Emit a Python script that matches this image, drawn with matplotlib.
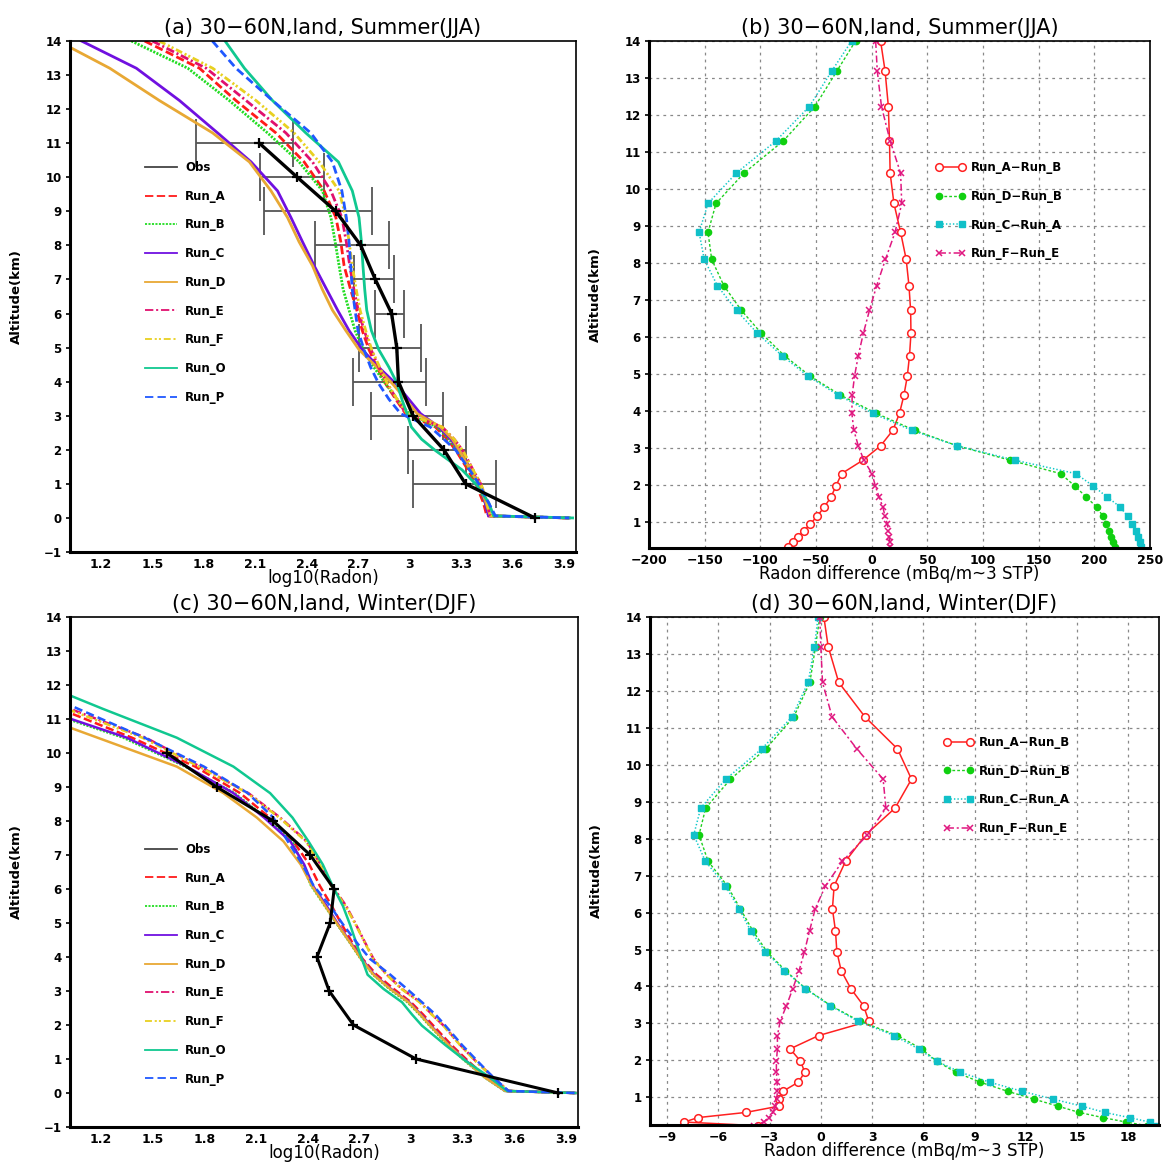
import numpy as np
import matplotlib
matplotlib.use('Agg')
import matplotlib.pyplot as plt
from matplotlib.lines import Line2D

plt.rcParams['font.family'] = ['DejaVu Sans']
plt.rcParams['font.weight'] = 'bold'
plt.rcParams['lines.scale_dashes'] = False

nan = np.nan

# ---------------- profiles (log10 Radon) on model levels ----------------
alt_prof = [14.0, 13.2, 12.25, 11.3, 10.45, 9.6, 8.82, 8.1, 7.4, 6.72, 6.1, 5.5, 4.94,
            4.42, 3.94, 3.48, 3.06, 2.67, 2.31, 1.98, 1.41, 0.95, 0.45, 0.06, 0.0]

# summer (JJA)
run_a_s = [1.455, 1.775, 1.988, 2.221, 2.385, 2.502, 2.57, 2.599, 2.618, 2.655, 2.692, 2.724, 2.763,
           2.81, 2.86, 2.92, 2.977, 3.15, 3.22, 3.27, 3.34, 3.39, 3.43, 3.45, 3.93]
run_b_s = [1.378, 1.707, 1.949, 2.172, 2.356, 2.492, 2.541, 2.566, 2.589, 2.612, 2.647, 2.682, 2.73,
           2.792, 2.86, 2.928, 2.996, 3.16, 3.23, 3.28, 3.35, 3.40, 3.44, 3.46, 3.93]
run_c_s = [1.087, 1.407, 1.659, 1.881, 2.076, 2.23, 2.308, 2.376, 2.444, 2.515, 2.58, 2.647, 2.724,
           2.82, 2.92, 2.996, 3.064, 3.17, 3.24, 3.29, 3.36, 3.41, 3.44, 3.46, 3.93]
run_d_s = [0.95, 1.252, 1.542, 1.852, 2.066, 2.192, 2.288, 2.356, 2.434, 2.49, 2.55, 2.628, 2.705,
           2.81, 2.90, 2.977, 3.044, 3.18, 3.25, 3.29, 3.355, 3.41, 3.445, 3.47, 3.93]
run_e_s = [1.50, 1.814, 2.047, 2.279, 2.434, 2.541, 2.605, 2.631, 2.651, 2.675, 2.70, 2.735, 2.775,
           2.82, 2.87, 2.925, 2.98, 3.19, 3.26, 3.31, 3.37, 3.42, 3.45, 3.47, 3.93]
run_f_s = [1.54, 1.852, 2.105, 2.327, 2.473, 2.589, 2.628, 2.647, 2.666, 2.688, 2.711, 2.744, 2.779,
           2.826, 2.87, 2.928, 2.986, 3.19, 3.26, 3.31, 3.37, 3.42, 3.45, 3.47, 3.93]
run_o_s = [1.924, 2.037, 2.201, 2.395, 2.585, 2.666, 2.705, 2.719, 2.728, 2.738, 2.75, 2.777, 2.82,
           2.88, 2.928, 2.955, 2.985, 3.01, 3.07, 3.15, 3.306, 3.393, 3.461, 3.49, 3.95]
run_p_s = [1.85, 1.988, 2.201, 2.424, 2.55, 2.605, 2.631, 2.647, 2.657, 2.665, 2.682, 2.699, 2.734,
           2.773, 2.82, 2.88, 2.948, 3.12, 3.2, 3.27, 3.35, 3.41, 3.46, 3.5, 3.93]

obs_alt_s = [0, 1, 2, 3, 4, 5, 6, 7, 8, 9, 10, 11]
obs_s = [3.73, 3.326, 3.20, 3.02, 2.935, 2.925, 2.895, 2.80, 2.715, 2.57, 2.345, 2.124]
obs_lo_s = [3.73, 3.019, 2.99, 2.773, 2.67, 2.705, 2.80, 2.676, 2.451, 2.151, 2.128, 1.757]
obs_hi_s = [3.73, 3.506, 3.326, 3.194, 3.093, 3.064, 2.97, 2.909, 2.88, 2.783, 2.498, 2.322]

# winter (DJF)
run_a_w = [nan, nan, 0.6, 0.96, 1.38, 1.747, 2.008, 2.18, 2.317, 2.41, 2.47, 2.54, 2.60,
           2.66, 2.72, 2.80, 2.90, 3.00, 3.07, 3.13, 3.235, 3.33, 3.44, 3.55, 3.955]
run_b_w = [nan, nan, 0.4, 0.83, 1.33, 1.69, 1.975, 2.155, 2.31, 2.37, 2.42, 2.50, 2.574,
           2.645, 2.709, 2.78, 2.875, 2.98, 3.05, 3.108, 3.215, 3.312, 3.43, 3.545, 3.955]
run_c_w = [nan, nan, 0.4, 0.85, 1.35, 1.698, 1.969, 2.147, 2.30, 2.38, 2.43, 2.51, 2.58,
           2.65, 2.715, 2.787, 2.884, 2.99, 3.058, 3.116, 3.222, 3.32, 3.435, 3.55, 3.955]
run_d_w = [nan, nan, 0.25, 0.72, 1.18, 1.64, 1.911, 2.105, 2.26, 2.36, 2.424, 2.502, 2.576,
           2.647, 2.711, 2.783, 2.88, 2.986, 3.054, 3.112, 3.219, 3.316, 3.432, 3.548, 3.955]
run_e_w = [nan, nan, 0.55, 1.02, 1.46, 1.775, 2.056, 2.24, 2.395, 2.475, 2.541, 2.624, 2.682,
           2.734, 2.783, 2.86, 2.948, 3.054, 3.122, 3.19, 3.287, 3.374, 3.48, 3.567, 3.955]
run_f_w = [nan, nan, 0.53, 1.0, 1.44, 1.77, 2.05, 2.235, 2.39, 2.47, 2.536, 2.62, 2.68,
           2.732, 2.781, 2.858, 2.945, 3.05, 3.12, 3.188, 3.285, 3.372, 3.478, 3.565, 3.955]
run_o_w = [nan, nan, 0.75, 1.21, 1.64, 1.969, 2.182, 2.312, 2.405, 2.488, 2.544, 2.605, 2.647,
           2.682, 2.715, 2.748, 2.841, 2.948, 3.006, 3.064, 3.2, 3.316, 3.461, 3.558, 3.955]
run_p_w = [nan, nan, 0.65, 1.067, 1.453, 1.798, 2.052, 2.201, 2.285, 2.37, 2.434, 2.531, 2.608,
           2.686, 2.763, 2.88, 2.977, 3.064, 3.142, 3.2, 3.297, 3.384, 3.48, 3.567, 3.955]

obs_alt_w = [0, 1, 2, 3, 4, 5, 6, 7, 8, 9, 10]
obs_w = [3.856, 3.03, 2.666, 2.525, 2.454, 2.531, 2.554, 2.415, 2.20, 1.872, 1.581]

# ---------------- differences (mBq/m^3 STP) ----------------
alt_lev = [14.0, 13.2, 12.23, 11.3, 10.43, 9.61, 8.83, 8.1, 7.39, 6.72, 6.1, 5.5, 4.94, 4.43,
           3.94, 3.48, 3.06, 2.67, 2.31, 1.98, 1.68, 1.41, 1.16, 0.95, 0.76, 0.59, 0.45, 0.33, 0.23]

ab_s = [8, 12, 15, 16, 16.6, 20, 26, 31, 33.5, 35, 35.3, 34, 32, 29, 25, 19, 8, -8, -27, -32,
        -36.5, -42.5, -49, -55, -61, -66, -71, -75, -79]
db_s = [-14.5, -31, -51, -79.4, -114.7, -139.8, -147, -143.7, -132.8, -117, -99, -78.5, -55, -28,
        4, 38.5, 77, 124.6, 169.7, 182.3, 192.6, 202, 207.7, 210.8, 213, 215.3, 217, 218.6, 219.5]
ca_s = [-18, -35.6, -56, -86, -121.6, -147, -155, -150.4, -138.6, -121.4, -102.6, -80.6, -57, -30,
        1, 36, 77, 129, 183.4, 198.8, 211.4, 223.2, 229.8, 234, 237, 239.4, 241, 241.5, 241.8]
fe_s = [3.6, 5, 8.8, 16.6, 26, 27, 21, 12.4, 4.5, -2, -7.5, -12, -15.4, -17.5, -17.8, -16, -12,
        -7, 0.3, 3.3, 6.6, 10, 12, 14, 15, 15.7, 16.3, 16.6, 16.6]

ab_w = [0.18, 0.43, 1.05, 2.58, 4.49, 5.31, 4.35, 2.62, 1.45, 0.78, 0.68, 0.86, 0.94, 1.19, 1.76,
        2.5, 2.81, -0.13, -1.8, -1.19, -0.94, -1.31, -2.23, -2.44, -2.46, -4.39, -7.2, -7.99, -3.67]
db_w = [-0.06, -0.31, -0.64, -1.58, -3.22, -5.29, -6.74, -7.13, -6.6, -5.47, -4.71, -3.97, -3.15,
        -2.07, -0.88, 0.59, 2.28, 4.49, 5.9, 6.78, 7.89, 9.33, 10.95, 12.48, 13.88, 15.13, 16.52,
        17.87, 19.12]
ca_w = [-0.16, -0.37, -0.74, -1.68, -3.46, -5.57, -7.03, -7.44, -6.76, -5.58, -4.78, -4.1, -3.24,
        -2.13, -0.9, 0.55, 2.17, 4.3, 5.72, 6.78, 8.16, 9.88, 11.8, 13.6, 15.29, 16.62, 18.08,
        19.25, 19.7]
fe_w = [-0.06, 0.0, 0.1, 0.66, 2.11, 3.65, 3.81, 2.73, 1.27, 0.27, -0.33, -0.66, -0.96, -1.27,
        -1.64, -2.01, -2.38, -2.54, -2.54, -2.6, -2.6, -2.56, -2.54, -2.58, -2.68, -2.79, -3.05,
        -3.34, -3.93]

run_names = ['Run_A', 'Run_B', 'Run_C', 'Run_D', 'Run_E', 'Run_F', 'Run_O', 'Run_P']
run_colors = ['#ff1a1a', '#22dd22', '#7010e0', '#e8a834', '#e0106e', '#e8d020', '#10c890', '#2058ff']
run_dashes = [(0, (6, 2.5)), (0, (1.5, 1)), '-', '-', (0, (6, 2, 1.5, 2)),
              (0, (5, 2, 1.5, 1.5, 1.5, 2)), '-', (0, (6, 3))]
runs_s = [run_a_s, run_b_s, run_c_s, run_d_s, run_e_s, run_f_s, run_o_s, run_p_s]
runs_w = [run_a_w, run_b_w, run_c_w, run_d_w, run_e_w, run_f_w, run_o_w, run_p_w]

diff_names = ['Run_A\u2212Run_B', 'Run_D\u2212Run_B', 'Run_C\u2212Run_A', 'Run_F\u2212Run_E']
diff_styles = [
    dict(color='#ff2020', ls='-', lw=1.1, marker='o', ms=5.5, mfc='white', mec='#ff2020', mew=1.1),
    dict(color='#20d020', ls=(0, (2, 1.5)), lw=1.0, marker='o', ms=4.5, mfc='#10d010', mec='#10d010'),
    dict(color='#10c8c8', ls=(0, (1, 1.5)), lw=1.1, marker='s', ms=4.5, mfc='#10c0c8', mec='#10c0c8'),
    dict(color='#e01880', ls=(0, (5, 2, 1.5, 2)), lw=1.1, marker='x', ms=4.5, mew=1.1),
]

W, H = 1165, 1162
fig = plt.figure(figsize=(W / 100, H / 100), dpi=100)


def add_ax(l, t, r, b):
    return fig.add_axes([l / W, 1 - b / H, (r - l) / W, (b - t) / H])


ax_a = add_ax(70, 41, 576, 552)
ax_b = add_ax(649, 41, 1150, 548)
ax_c = add_ax(70, 617, 578, 1127)
ax_d = add_ax(650, 617, 1159, 1125)


def style_axes(ax):
    for side in ['left', 'bottom']:
        ax.spines[side].set_linewidth(2.2)
    for side in ['top', 'right']:
        ax.spines[side].set_linewidth(1.2)
    ax.tick_params(axis='y', direction='out', length=3, width=1.2, pad=3, labelsize=8.5)
    ax.tick_params(axis='x', direction='out', length=0, pad=4, labelsize=9)
    ax.yaxis.set_label_coords(-0.093, 0.48)
    ax.set_ylabel('Altitude(km)', fontsize=9.5, fontweight='bold')


def profile_panel(ax, runs, obs_alt, obs, title, lw, leg_y, lo=None, hi=None):
    if lo is not None:
        o = np.array(obs[1:])
        ax.errorbar(o, obs_alt[1:], xerr=[o - np.array(lo[1:]), np.array(hi[1:]) - o],
                    fmt='none', ecolor='#555555', elinewidth=1.3, capsize=17, capthick=1.3)
    for vals, c, d in zip(runs, run_colors, run_dashes):
        ax.plot(vals, alt_prof, color=c, ls=d, lw=lw)
    ax.plot(obs, obs_alt, color='k', lw=lw + 0.4, marker='+', ms=7, mew=1.6)
    ax.set_xlim(1.02, 3.97)
    ax.set_ylim(-1, 14)
    ax.set_xticks([1.2, 1.5, 1.8, 2.1, 2.4, 2.7, 3.0, 3.3, 3.6, 3.9])
    ax.set_xticklabels(['1.2', '1.5', '1.8', '2.1', '2.4', '2.7', '3', '3.3', '3.6', '3.9'])
    ax.set_yticks(range(-1, 15))
    ax.set_xlabel('log10(Radon)', fontsize=12, fontweight='normal', labelpad=-1)
    ax.set_title(title, fontsize=15, fontweight='normal', pad=5)
    style_axes(ax)
    handles = [Line2D([], [], color='#444444', lw=1.3)]
    handles += [Line2D([], [], color=c, ls=d, lw=1.3) for c, d in zip(run_colors, run_dashes)]
    ax.legend(handles, ['Obs'] + run_names, loc='upper left', frameon=False,
              prop={'weight': 'bold', 'size': 8.5}, handlelength=2.7, handletextpad=0.7,
              labelspacing=1.33, borderpad=0, borderaxespad=0,
              bbox_to_anchor=(0.148, leg_y))


def diff_panel(ax, series, title, xlim, xticks, ylim, leg_anchor):
    for vals, name, st in zip(series, diff_names, diff_styles):
        ax.plot(vals, alt_lev, label=name, **st)
    ax.set_xlim(*xlim)
    ax.set_ylim(*ylim)
    ax.set_xticks(xticks)
    ax.set_yticks(range(1, 15))
    ax.grid(True, color='#888888', ls=(0, (2, 3)), lw=0.9)
    ax.set_xlabel('Radon difference (mBq/m~3 STP)', fontsize=12, fontweight='normal', labelpad=-1)
    ax.set_title(title, fontsize=15, fontweight='normal', pad=5)
    style_axes(ax)
    ax.legend(loc='upper left', frameon=False, numpoints=2, prop={'weight': 'bold', 'size': 8.5},
              handlelength=2.6, handletextpad=0.4, labelspacing=1.33, borderpad=0,
              borderaxespad=0, bbox_to_anchor=leg_anchor)


profile_panel(ax_a, runs_s, obs_alt_s, obs_s, '(a) 30\u221260N,land, Summer(JJA)', 2.0, 0.765,
              obs_lo_s, obs_hi_s)
profile_panel(ax_c, runs_w, obs_alt_w, obs_w, '(c) 30\u221260N,land, Winter(DJF)', 1.8, 0.557)

diff_panel(ax_b, [ab_s, db_s, ca_s, fe_s], '(b) 30\u221260N,land, Summer(JJA)',
           (-200, 250), range(-200, 251, 50), (0.3, 14), (0.571, 0.763))
diff_panel(ax_d, [ab_w, db_w, ca_w, fe_w], '(d) 30\u221260N,land, Winter(DJF)',
           (-10, 19.8), range(-9, 19, 3), (0.25, 14), (0.576, 0.766))

fig.savefig('out.png', dpi=100)
